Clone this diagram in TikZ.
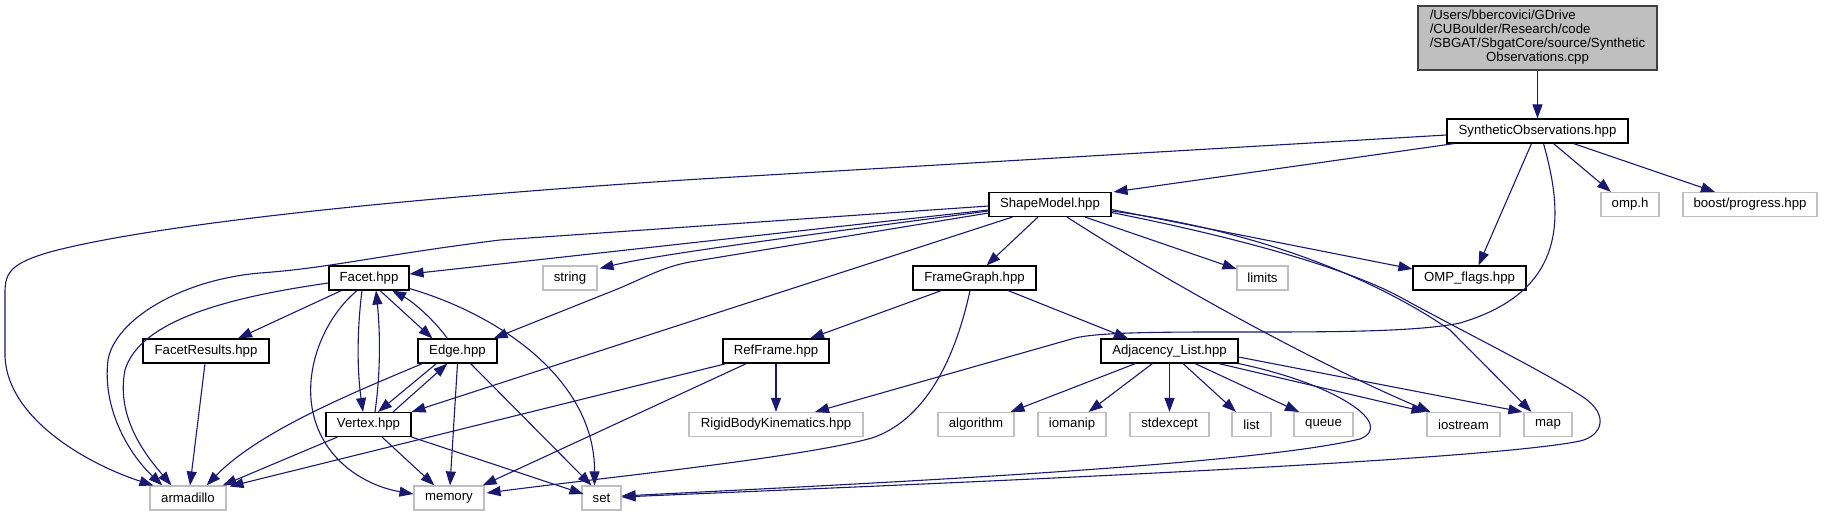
\documentclass[tikz,border=0pt]{standalone}
\usepackage{fontspec}
\setmainfont{Liberation Sans}
\usetikzlibrary{arrows.meta,calc}
\definecolor{midblue}{HTML}{191970}
\definecolor{greyst}{HTML}{BFBFBF}
\definecolor{dkgrey}{HTML}{404040}
\tikzset{
  every node/.style={font=\fontsize{13.2}{14}\selectfont},
  pbox/.style={draw=black, fill=white, line width=1.1pt, minimum height=24pt, inner sep=0pt},
  sbox/.style={draw=greyst, fill=white, line width=1.1pt, minimum height=24pt, inner sep=0pt},
  cppbox/.style={draw=dkgrey, fill=greyst, line width=1.1pt, minimum width=239pt, minimum height=64pt, inner sep=0pt},
  link/.style={draw=midblue, line width=1.1pt, -{Triangle[length=14pt,width=10pt]}, fill=none}
}
\begin{document}
\begin{tikzpicture}[x=1pt,y=-1pt]
\useasboundingbox (0,0) rectangle (1824,516);
% nodes
\node[cppbox] (cpp) at (1537.5,38) {\begin{tabular}{@{}l@{}}/Users/bbercovici/GDrive\\/CUBoulder/Research/code\\/SBGAT/SbgatCore/source/Synthetic\\\multicolumn{1}{@{}c@{}}{Observations.cpp}\end{tabular}};
\node[pbox, minimum width=181pt] (syn) at (1537.5,131) {SyntheticObservations.hpp};
\node[pbox, minimum width=122pt] (shape) at (1050,204.5) {ShapeModel.hpp};
\node[sbox, minimum width=58pt] (omph) at (1630,204.5) {omp.h};
\node[sbox, minimum width=134pt] (boost) at (1750,204.5) {boost/progress.hpp};
\node[pbox, minimum width=80pt] (facet) at (369,278) {Facet.hpp};
\node[sbox, minimum width=54pt] (string) at (570,278) {string};
\node[pbox, minimum width=123pt] (frame) at (974.5,278) {FrameGraph.hpp};
\node[sbox, minimum width=51pt] (limits) at (1262.5,278) {limits};
\node[pbox, minimum width=113pt] (omp) at (1469.5,278) {OMP\_flags.hpp};
\node[pbox, minimum width=126pt] (fres) at (206,351) {FacetResults.hpp};
\node[pbox, minimum width=79pt] (edge) at (457.5,351) {Edge.hpp};
\node[pbox, minimum width=106pt] (ref) at (776,351) {RefFrame.hpp};
\node[pbox, minimum width=137pt] (adj) at (1169.5,351) {Adjacency\_List.hpp};
\node[pbox, minimum width=85pt] (vertex) at (368.5,424.5) {Vertex.hpp};
\node[sbox, minimum width=174pt] (rbk) at (776,424.5) {RigidBodyKinematics.hpp};
\node[sbox, minimum width=76pt] (algo) at (976,424.5) {algorithm};
\node[sbox, minimum width=68pt] (ioman) at (1072,424.5) {iomanip};
\node[sbox, minimum width=79pt] (stdex) at (1169.5,424.5) {stdexcept};
\node[sbox, minimum width=39pt] (list) at (1251.5,424.5) {list};
\node[sbox, minimum width=59pt] (queue) at (1323.5,424.5) {queue};
\node[sbox, minimum width=73pt] (iostr) at (1463.5,424.5) {iostream};
\node[sbox, minimum width=48pt] (map) at (1548,424.5) {map};
\node[sbox, minimum width=76pt] (arma) at (188,498) {armadillo};
\node[sbox, minimum width=70pt] (memory) at (449,498) {memory};
\node[sbox, minimum width=39pt] (set) at (601.5,498) {set};
% edges from cpp / SyntheticObservations
\draw[link] (cpp.south) -- (syn.north);
\draw[link] ($(syn.west)+(0,4)$) -- (700,179) .. controls (400,198) and (150,225) .. (50,252) .. controls (12,263) and (5,272) .. (5,292) -- (5,357) .. controls (8,420) and (90,465) .. ($(arma.north west)+(4,0)$);
\draw[link] ($(syn.south west)+(8,0)$) -- ($(shape.north east)+(2,0)$);
\draw[link] ($(syn.south)+(-6,0)$) -- ($(omp.north)+(9,0)$);
\draw[link] ($(syn.south)+(6,0)$) .. controls (1562,210) and (1572,290) .. (1460,323) .. controls (1380,340) and (1130,325) .. (1075,338) -- ($(rbk.north)+(39,0)$);
\draw[link] ($(syn.south)+(16,0)$) -- ($(omph.north)+(-19,0)$);
\draw[link] ($(syn.south)+(36,0)$) -- ($(boost.north)+(-35,0)$);
% ShapeModel
\draw[link] ($(shape.west)+(0,1.5)$) -- (500,240) .. controls (380,255) and (330,268) .. (260,273) .. controls (180,280) and (115,320) .. (108,360) .. controls (102,410) and (130,455) .. ($(arma.north west)+(13,0)$);
\draw[link] ($(shape.west)+(0,5.5)$) -- ($(facet.east)+(0,-4)$);
\draw[link] ($(shape.west)+(0,6.5)$) .. controls (800,236) and (660,254) .. ($(string.north east)+(2,3)$);
\draw[link] ($(shape.west)+(0,8.5)$) -- (690,262) .. controls (662,267) and (640,280) .. (615,290) -- ($(edge.north east)+(-4,0)$);
\draw[link] ($(shape.south west)+(24,0)$) -- (vertex.north east);
\draw[link] ($(shape.south)+(-12,0)$) -- ($(frame.north)+(12,0)$);
\draw[link] ($(shape.south)+(35,0)$) -- ($(limits.west)+(0,-9)$);
\draw[link] ($(shape.east)+(0,5)$) -- ($(omp.west)+(0,-9)$);
\draw[link] ($(shape.south)+(17,0)$) .. controls (1180,290) and (1330,370) .. ($(iostr.north west)+(4,0)$);
\draw[link] ($(shape.east)+(0,6.5)$) .. controls (1270,232) and (1385,285) .. (1450,330) -- ($(map.north west)+(8,0)$);
\draw[link] ($(shape.east)+(0,8)$) .. controls (1250,240) and (1350,270) .. (1400,297) .. controls (1460,330) and (1545,372) .. (1583,397) .. controls (1610,415) and (1602,436) .. (1580,441) .. controls (1480,462) and (900,485) .. ($(set.east)+(0,-1)$);
% FrameGraph
\draw[link] ($(frame.south west)+(29,0)$) -- ($(ref.north)+(34,0)$);
\draw[link] ($(frame.south)+(33.5,0)$) -- ($(adj.north)+(-41.5,0)$);
\draw[link] ($(frame.south)+(-4.5,0)$) .. controls (955,360) and (925,420) .. (872,438) .. controls (800,458) and (600,478) .. ($(memory.east)+(2,-5)$);
% RefFrame
\draw[link] (ref.south) -- (rbk.north);
\draw[link] ($(ref.south west)+(4,0)$) -- ($(arma.north east)+(3,1)$);
\draw[link] ($(ref.south west)+(24,0)$) -- ($(memory.north east)+(-2,0)$);
% Adjacency_List
\draw[link] ($(adj.south west)+(35,0)$) -- ($(algo.north east)+(-4,0)$);
\draw[link] ($(adj.south west)+(52,0)$) -- ($(ioman.north east)+(-18,0)$);
\draw[link] (adj.south) -- (stdex.north);
\draw[link] ($(adj.south)+(13.5,0)$) -- ($(list.north)+(-15.5,0)$);
\draw[link] ($(adj.south)+(25.5,0)$) -- ($(queue.north)+(-24.5,0)$);
\draw[link] ($(adj.south east)+(-20,0)$) -- ($(iostr.north west)+(-1,0)$);
\draw[link] ($(adj.east)+(0,6)$) -- ($(map.north west)+(-1,0)$);
\draw[link] (adj.south east) .. controls (1340,385) and (1395,425) .. (1360,439) .. controls (1250,465) and (900,482) .. ($(set.east)+(0,-2)$);
% Facet
\draw[link] ($(facet.south west)+(13,0)$) -- ($(fres.north)+(32,0)$);
\draw[link] ($(facet.south)+(11,0)$) -- ($(edge.north west)+(15,0)$);
\draw[link] ($(edge.north west)+(30,0)$) .. controls (430,315) and (410,300) .. ($(facet.south)+(23,0)$);
\draw[link] ($(facet.south)+(-7,0)$) .. controls (357,330) and (357,370) .. ($(vertex.north)+(-5.5,0)$);
\draw[link] ($(vertex.north)+(6.5,0)$) .. controls (381,370) and (380,330) .. ($(facet.south)+(7,0)$);
\draw[link] ($(facet.south)+(-12,0)$) .. controls (310,330) and (285,420) .. (350,470) .. controls (370,485) and (390,490) .. ($(memory.west)+(0,-4)$);
\draw[link] ($(facet.south east)+(0,-2)$) .. controls (500,315) and (595,380) .. ($(set.north)+(-7,0)$);
\draw[link] ($(facet.west)+(0,5)$) .. controls (230,297) and (140,320) .. (125,370) .. controls (115,420) and (150,460) .. ($(arma.north west)+(22,0)$);
\draw[link] ($(fres.south)+(-1,0)$) -- ($(arma.north)+(2,0)$);
% Edge / Vertex
\draw[link] ($(edge.south west)+(19,0)$) -- ($(vertex.north)+(9.5,0)$);
\draw[link] ($(vertex.north)+(24.5,0)$) -- ($(edge.south west)+(30,0)$);
\draw[link] ($(edge.south west)+(5,0)$) .. controls (360,390) and (260,430) .. ($(arma.north east)+(-20,0)$);
\draw[link] (edge.south) -- ($(memory.north)+(1,0)$);
\draw[link] ($(edge.south east)+(-27,0)$) -- ($(set.north west)+(10,0)$);
\draw[link] ($(vertex.south west)+(12,0)$) -- ($(arma.north east)+(-4,0)$);
\draw[link] ($(vertex.south)+(13.5,0)$) -- ($(memory.north west)+(21,0)$);
\draw[link] (vertex.south east) -- ($(set.west)+(2,-4)$);
\end{tikzpicture}
\end{document}
